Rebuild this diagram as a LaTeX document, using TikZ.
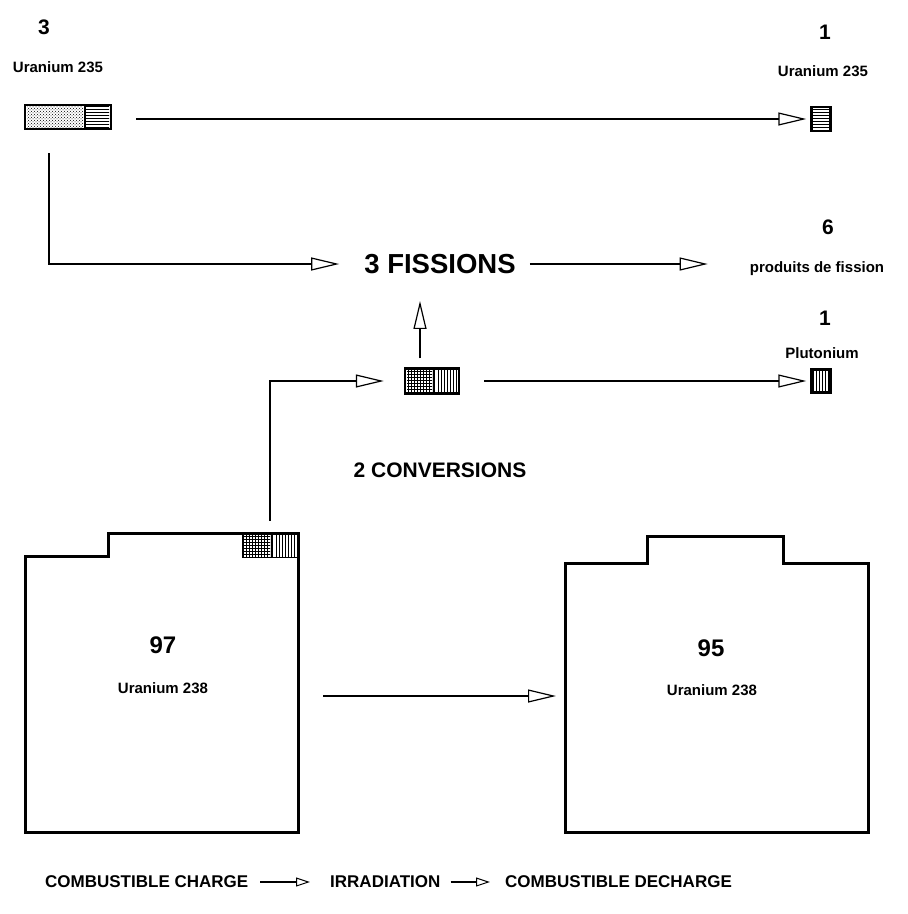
\documentclass[tikz,border=0pt]{standalone}
\usepackage{fontspec}
\setmainfont{Liberation Sans}
\usetikzlibrary{arrows.meta,patterns}
\begin{document}
\begin{tikzpicture}[x=1pt,y=-1pt,
  thinln/.style={line width=1.1pt},
  thickln/.style={line width=2.6pt},
  tipopen/.style={-{Triangle[open,length=28pt,width=13pt,line width=1.2pt]}},
  legtip/.style={-{Triangle[open,length=14pt,width=9pt,line width=1pt]}},
  lbl/.style={font=\bfseries\fontsize{15}{15}\selectfont, inner sep=0pt},
  num/.style={font=\bfseries\fontsize{21}{21}\selectfont, inner sep=0pt},
  bignum/.style={font=\bfseries\fontsize{24}{24}\selectfont, inner sep=0pt},
  big/.style={font=\bfseries\fontsize{27.5}{27.5}\selectfont, inner sep=0pt},
  legend/.style={font=\bfseries\fontsize{17}{17}\selectfont, inner sep=0pt},
  fuel/.style={draw, line width=2.4pt, inner sep=0pt},
  shape238/.style={line width=3pt, line join=miter}]
\useasboundingbox[fill=white] (0,0) rectangle (908,914);

% ---- top left: 3 Uranium 235
\node[num] (n3) at (44,27) {3};
\node[lbl] (u235l) at (58,67) {Uranium 235};
\node[fuel, minimum width=86pt, minimum height=24pt] (boxA) at (68,117) {};
\fill[pattern=crosshatch dots] (27,106) rectangle (83,128);
\fill[pattern=horizontal lines] (86,106) rectangle (109,128);
\draw[line width=2pt] (84.5,105) -- (84.5,129);

% ---- top right: 1 Uranium 235
\node[num] (n1a) at (825,32) {1};
\node[lbl] (u235r) at (823,71) {Uranium 235};
\node[fuel, minimum width=19pt, minimum height=24pt, pattern=horizontal lines] (boxB) at (821,119) {};

% ---- fissions
\node[big] (fis) at (440,264) {3 FISSIONS};
\node[num] (n6) at (828,227) {6};
\node[lbl] (pdf) at (817,269) {produits de fission};

% ---- middle box (conversion)
\node[fuel, minimum width=54pt, minimum height=25pt] (boxC) at (432,381) {};
\fill[pattern=grid] (407,370) rectangle (432,392);
\fill[pattern=vertical lines] (436,370) rectangle (457,392);
\draw[line width=2pt] (434,369) -- (434,393);

% ---- plutonium
\node[num] (n1b) at (825,318) {1};
\node[lbl] (pu) at (822,353) {Plutonium};
\node[fuel, minimum width=19pt, minimum height=23pt, pattern=vertical lines] (boxD) at (821,381) {};

\node[font=\bfseries\fontsize{21}{21}\selectfont, inner sep=0pt] (conv) at (440,470) {2 CONVERSIONS};

% ---- big left shape (97 Uranium 238)
\draw[shape238] (25,832) -- (25,556) -- (108,556) -- (108,533) -- (298,533) -- (298,832) -- cycle;
\node[inner sep=0pt, minimum width=54pt, minimum height=25pt] (boxE) at (270,545.5) {};
\fill[pattern=grid] (244,534) rectangle (270,557);
\fill[pattern=vertical lines] (274,534) rectangle (296,557);
\draw[line width=1.6pt] (243,557.5) -- (298,557.5) (243,557.5) -- (243,533);
\draw[line width=1.6pt] (272,533) -- (272,557.5);
\node[bignum] (n97) at (163,645) {97};
\node[lbl] (u238l) at (163,688) {Uranium 238};

% ---- big right shape (95 Uranium 238)
\draw[shape238] (565,832) -- (565,563) -- (647,563) -- (647,536) -- (783,536) -- (783,563) -- (868,563) -- (868,832) -- cycle;
\node[bignum] (n95) at (711,648) {95};
\node[lbl] (u238r) at (712,690) {Uranium 238};

% ---- connectors
\coordinate (eL) at (323,696);
\coordinate (eR) at (556,696);
\draw[thinln, tipopen, shorten <=24pt, shorten >=4pt] (boxA.east |- boxB) -- (boxB.west);
\draw[thickln, tipopen] ([shift={(-19,23)}]boxA.south) |- ([xshift=-25pt]fis.west);
\draw[thinln, tipopen, shorten <=14pt, shorten >=42pt] (fis.east) -- (fis.east -| pdf.west);
\draw[thickln, tipopen] ([xshift=-12pt,yshift=9pt]boxC.north) -- ([xshift=-12pt,yshift=-27pt]boxC.north |- fis.south);
\draw[thinln, tipopen, shorten <=24pt, shorten >=4pt] (boxC.east) -- (boxD.west);
\draw[thickln, tipopen] ([yshift=12pt]boxE.north) |- ([xshift=-20pt]boxC.west);
\draw[thinln, tipopen] (eL) -- (eR);

% ---- legend
\node[legend, anchor=west] (lg1) at (45,882) {COMBUSTIBLE CHARGE};
\node[legend, anchor=west] (lg2) at (330,882) {IRRADIATION};
\node[legend, anchor=west] (lg3) at (505,882) {COMBUSTIBLE DECHARGE};
\draw[thinln, legtip] ([xshift=12pt]lg1.east) -- ([xshift=-20pt]lg2.west);
\draw[thinln, legtip] ([xshift=10pt]lg2.east) -- ([xshift=-15pt]lg3.west);
\end{tikzpicture}
\end{document}
